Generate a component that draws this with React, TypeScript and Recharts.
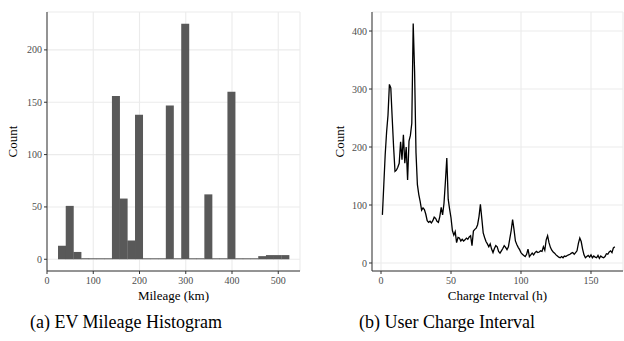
import { Bar, BarChart, CartesianGrid, Line, LineChart, XAxis, YAxis } from "recharts"

// (a) mileage histogram, 30 bins
const binCenters = [
  32.1, 48.8, 65.4, 82.1, 98.7, 115.4, 132.0, 148.7, 165.3, 182.0, 198.6, 215.3, 231.9, 248.6, 265.2,
  281.9, 298.5, 315.2, 331.8, 348.5, 365.1, 381.8, 398.4, 415.1, 431.7, 448.4, 465.0, 481.7, 498.3, 515.0,
]
const binCounts = [13, 51, 7, 1, 0, 0, 0, 156, 58, 18, 138, 0, 0, 0, 147, 0, 225, 0, 0, 62, 0, 0, 160, 0, 0, 0, 3, 4, 4, 4]
const mileageTicks = [0, 100, 200, 300, 400, 500]
const mileageMinor = [50, 150, 250, 350, 450]
const mileageCountTicks = [0, 50, 100, 150, 200]
const mileageCountMinor = [25, 75, 125, 175, 225]

// (b) charge interval, hourly counts starting at hour 1
const firstHour = 1
const intervalCounts = [
  83, 135, 187, 226, 255, 308, 302, 250, 200, 158,
  160, 165, 172, 209, 178, 221, 172, 200, 143, 210,
  220, 241, 413, 330, 190, 135, 118, 106, 91, 95,
  92, 84, 73, 70, 72, 69, 73, 79, 77, 72,
  70, 80, 96, 83, 103, 140, 181, 110, 93, 78,
  56, 48, 54, 35, 44, 43, 38, 41, 38, 40,
  43, 41, 45, 47, 30, 55, 58, 60, 66, 80,
  101, 77, 52, 44, 37, 33, 28, 33, 24, 18,
  25, 30, 28, 20, 17, 21, 25, 30, 27, 23,
  28, 42, 56, 75, 58, 38, 32, 27, 23, 18,
  15, 13, 11, 15, 24, 11, 14, 17, 14, 18,
  20, 18, 19, 21, 20, 28, 22, 40, 47, 35,
  27, 22, 19, 17, 14, 12, 10, 9, 11, 9,
  12, 11, 13, 14, 15, 17, 18, 15, 18, 21,
  34, 43, 37, 24, 14, 9, 11, 13, 10, 14,
  9, 12, 10, 9, 13, 8, 12, 10, 9, 11,
  16, 15, 19, 21, 18, 26, 28,
]
const intervalTicks = [0, 50, 100, 150]
const intervalMinor = [25, 75, 125]
const intervalCountTicks = [0, 100, 200, 300, 400]
const intervalCountMinor = [50, 150, 250, 350]

const histData = binCenters.map((mileage, i) => ({ mileage, count: binCounts[i] }))
const intervalData = intervalCounts.map((count, i) => ({ hour: firstHour + i, count }))

const serif = '"Liberation Serif", "Times New Roman", serif'
const gridColor = "#ebebeb"
const borderColor = "#333333"
const tickStyle = { fill: "#4d4d4d", fontSize: 10, fontFamily: serif }
const titleStyle = { fill: "#000000", fontSize: 13, fontFamily: serif }

const minorVertical = (values: number[]) => (props: any) => {
  const scale = props?.xAxis?.scale
  return typeof scale === "function" ? values.map((v) => scale(v)) : []
}
const minorHorizontal = (values: number[]) => (props: any) => {
  const scale = props?.yAxis?.scale
  return typeof scale === "function" ? values.map((v) => scale(v)) : []
}

function MileageHistogram() {
  return (
    <BarChart
      width={312}
      height={305}
      data={histData}
      margin={{ top: 12, right: 12, left: 0, bottom: 0 }}
      barCategoryGap={0}
      barGap={0}
    >
      <CartesianGrid
        stroke={gridColor}
        strokeWidth={0.6}
        verticalCoordinatesGenerator={minorVertical(mileageMinor)}
        horizontalCoordinatesGenerator={minorHorizontal(mileageCountMinor)}
      />
      <CartesianGrid stroke={gridColor} strokeWidth={1.1} />
      <XAxis
        dataKey="mileage"
        type="number"
        domain={[0, 547]}
        allowDataOverflow
        ticks={mileageTicks}
        height={34}
        tickSize={3}
        tickMargin={3}
        tick={tickStyle}
        stroke={borderColor}
        label={{ value: "Mileage (km)", position: "insideBottom", offset: 5, style: titleStyle }}
      />
      <YAxis
        type="number"
        domain={[-11.2, 236.2]}
        allowDataOverflow
        ticks={mileageCountTicks}
        width={47}
        tickSize={3}
        tickMargin={2}
        tick={tickStyle}
        stroke={borderColor}
        label={{ value: "Count", angle: -90, position: "insideLeft", offset: 12.5, style: { ...titleStyle, textAnchor: "middle" } }}
      />
      <XAxis xAxisId="top" orientation="top" type="number" domain={[0, 1]} height={0} tick={false} tickLine={false} stroke={borderColor} />
      <YAxis yAxisId="right" orientation="right" type="number" domain={[0, 1]} width={0} tick={false} tickLine={false} stroke={borderColor} />
      <Bar dataKey="count" fill="#595959" minPointSize={1} isAnimationActive={false} />
    </BarChart>
  )
}

function ChargeIntervalLine() {
  return (
    <LineChart width={312} height={305} data={intervalData} margin={{ top: 12, right: 1, left: 0, bottom: 0 }}>
      <CartesianGrid
        stroke={gridColor}
        strokeWidth={0.6}
        verticalCoordinatesGenerator={minorVertical(intervalMinor)}
        horizontalCoordinatesGenerator={minorHorizontal(intervalCountMinor)}
      />
      <CartesianGrid stroke={gridColor} strokeWidth={1.1} />
      <XAxis
        dataKey="hour"
        type="number"
        domain={[-6.43, 172.86]}
        allowDataOverflow
        ticks={intervalTicks}
        height={34}
        tickSize={3}
        tickMargin={3}
        tick={tickStyle}
        stroke={borderColor}
        label={{ value: "Charge Interval (h)", position: "insideBottom", offset: 5, style: titleStyle }}
      />
      <YAxis
        type="number"
        domain={[-13.8, 432.8]}
        allowDataOverflow
        ticks={intervalCountTicks}
        width={60}
        tickSize={3}
        tickMargin={2}
        tick={tickStyle}
        stroke={borderColor}
        label={{ value: "Count", angle: -90, position: "insideLeft", offset: 27, style: { ...titleStyle, textAnchor: "middle" } }}
      />
      <XAxis xAxisId="top" orientation="top" type="number" domain={[0, 1]} height={0} tick={false} tickLine={false} stroke={borderColor} />
      <YAxis yAxisId="right" orientation="right" type="number" domain={[0, 1]} width={0} tick={false} tickLine={false} stroke={borderColor} />
      <Line type="linear" dataKey="count" stroke="#000000" strokeWidth={1.3} dot={false} isAnimationActive={false} />
    </LineChart>
  )
}

const captionStyle: React.CSSProperties = {
  position: "absolute",
  top: 313,
  width: 300,
  textAlign: "center",
  fontFamily: serif,
  fontSize: 18,
  lineHeight: "18px",
  color: "#000",
  whiteSpace: "nowrap",
}

export default function App() {
  return (
    <div style={{ position: "absolute", left: 0, top: 0, width: 624, height: 341, background: "#fff", overflow: "hidden", fontFamily: serif }}>
      <div style={{ position: "absolute", left: 0, top: 0 }}>
        <MileageHistogram />
      </div>
      <div style={{ position: "absolute", left: 312, top: 0 }}>
        <ChargeIntervalLine />
      </div>
      <div style={{ ...captionStyle, left: 126 - 150 }}>(a) EV Mileage Histogram</div>
      <div style={{ ...captionStyle, left: 447 - 150 }}>(b) User Charge Interval</div>
    </div>
  )
}
